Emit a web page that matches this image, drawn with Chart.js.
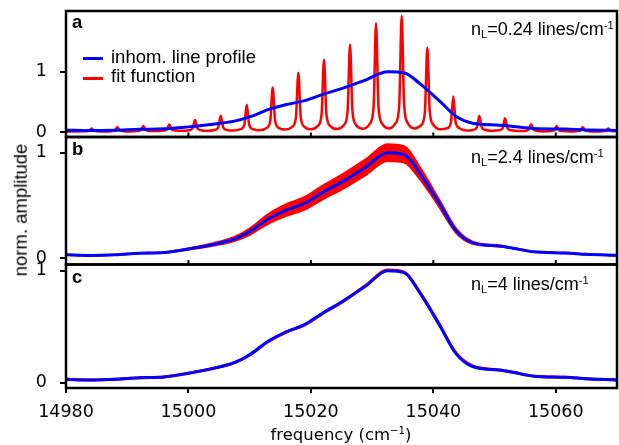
<!DOCTYPE html>
<html>
<head>
<meta charset="utf-8">
<script src="https://cdn.jsdelivr.net/npm/chart.js@4.4.0/dist/chart.umd.min.js"></script>
<style>
body { margin: 0; background: #fff; }
#wrap { position: relative; width: 619px; height: 445px; overflow: hidden; background: #fff; }
canvas { position: absolute; left: 0; }
.t { position: absolute; font-family: "Liberation Sans", Arial, sans-serif; color: #000; white-space: nowrap; line-height: 1; }
.t sub, .t sup { font-size: 62%; line-height: 0; }
.t sub { vertical-align: -0.3em; }
.t sup { vertical-align: 0.55em; }
.key { position: absolute; height: 3px; width: 20px; }
</style>
</head>
<body>
<div id="wrap">
  <canvas id="panelA" width="619" height="200" style="top:-30px"></canvas>
  <canvas id="panelB" width="619" height="200" style="top:100px"></canvas>
  <canvas id="panelC" width="619" height="250" style="top:230px"></canvas>

  <div class="t" style="left:72px;top:13px;font-size:18.5px;font-weight:bold">a</div>
  <div class="t" style="left:72px;top:140px;font-size:18.5px;font-weight:bold">b</div>
  <div class="t" style="left:72px;top:268px;font-size:18.5px;font-weight:bold">c</div>

  <div class="t" style="left:471px;top:20px;font-size:18px">n<sub>L</sub>=0.24 lines/cm<sup>-1</sup></div>
  <div class="t" style="left:471px;top:148px;font-size:18px">n<sub>L</sub>=2.4 lines/cm<sup>-1</sup></div>
  <div class="t" style="left:471px;top:275px;font-size:18px">n<sub>L</sub>=4 lines/cm<sup>-1</sup></div>

  <div class="key" style="left:83px;top:57px;background:#0000ff"></div>
  <div class="key" style="left:83px;top:77px;background:#ff0000"></div>
  <div class="t" style="left:111px;top:48px;font-size:18.5px">inhom. line profile</div>
  <div class="t" style="left:111px;top:67px;font-size:18.5px">fit function</div>

  <div class="t" style="left:21px;top:210px;font-size:18.5px;transform:translate(-50%,-50%) rotate(-90deg)">norm. amplitude</div>
  <div class="t" style="left:341px;top:427px;font-size:16.5px;font-family:'DejaVu Sans',sans-serif;transform:translateX(-50%)">frequency (cm<sup>&minus;1</sup>)</div>
</div>

<script>
// axis ticks
var xTickValues = [14980, 15000, 15020, 15040, 15060];
var yTickValues = [0, 1];

// inhomogeneous line profile (same curve in all three panels)
var profileFreq = [14980, 14984, 14988, 14992, 14996, 15000, 15004, 15007.5, 15010, 15013, 15016, 15019, 15022, 15025, 15029, 15032.5, 15035.3, 15037.7, 15041, 15043.7, 15046.4, 15050.8, 15053, 15056.5, 15061.6, 15065, 15070];
var profile = [0.030, 0.024, 0.030, 0.045, 0.052, 0.085, 0.128, 0.18, 0.25, 0.37, 0.455, 0.52, 0.625, 0.72, 0.865, 1.0, 0.98, 0.81, 0.515, 0.26, 0.145, 0.113, 0.093, 0.058, 0.048, 0.035, 0.025];

// panel a: fit function, 0.24 lines/cm-1
var peakFreqA = [14984.2, 14988.38, 14992.63, 14996.87, 15001.07, 15005.27, 15009.52, 15013.76, 15017.95, 15022.14, 15026.39, 15030.64, 15034.83, 15039.02, 15043.26, 15047.51, 15051.71, 15055.96, 15060.15, 15064.4, 15068.58];
var peakHeightA = [0.06, 0.08, 0.10, 0.13, 0.20, 0.27, 0.45, 0.74, 0.98, 1.20, 1.45, 1.81, 1.93, 1.40, 0.59, 0.27, 0.23, 0.13, 0.10, 0.08, 0.06];
var peakNeckA = [0.022, 0.026, 0.032, 0.044, 0.06, 0.076, 0.118, 0.183, 0.238, 0.288, 0.342, 0.42, 0.446, 0.332, 0.153, 0.076, 0.062, 0.038, 0.03, 0.026, 0.022];
var peakFootA = [0.013, 0.014, 0.017, 0.024, 0.029, 0.034, 0.048, 0.068, 0.086, 0.102, 0.117, 0.139, 0.147, 0.115, 0.062, 0.034, 0.028, 0.018, 0.015, 0.014, 0.013];
var valleyFreqA = [14980, 14986.3, 14990.5, 14994.75, 14998.97, 15003.17, 15007.4, 15011.64, 15015.86, 15020.05, 15024.27, 15028.52, 15032.74, 15036.93, 15041.14, 15045.39, 15049.61, 15053.84, 15058.06, 15062.28, 15066.49, 15070];
var valleyA = [0.01, 0.01, 0.01, 0.015, 0.02, 0.02, 0.025, 0.03, 0.04, 0.045, 0.05, 0.055, 0.06, 0.06, 0.045, 0.025, 0.02, 0.015, 0.01, 0.01, 0.01, 0.01];

// panel b: fit function, 2.4 lines/cm-1 (upper and lower edge of the dense ripple)
var fitUpperB = [0.031, 0.025, 0.031, 0.047, 0.055, 0.09, 0.14, 0.20, 0.28, 0.415, 0.51, 0.58, 0.69, 0.79, 0.94, 1.08, 1.06, 0.87, 0.55, 0.28, 0.155, 0.118, 0.096, 0.06, 0.05, 0.037, 0.026];
var fitLowerB = [0.029, 0.023, 0.029, 0.043, 0.049, 0.08, 0.116, 0.16, 0.22, 0.325, 0.40, 0.46, 0.56, 0.65, 0.79, 0.92, 0.905, 0.755, 0.48, 0.24, 0.135, 0.108, 0.09, 0.056, 0.046, 0.033, 0.024];

// panel c: fit function, 4 lines/cm-1
var fitC = [0.031, 0.025, 0.030, 0.045, 0.052, 0.084, 0.127, 0.179, 0.248, 0.366, 0.452, 0.516, 0.62, 0.715, 0.87, 1.005, 0.985, 0.815, 0.52, 0.265, 0.15, 0.113, 0.093, 0.058, 0.048, 0.035, 0.025];

function pts(xs, ys) {
  return xs.map(function (x, i) { return { x: x, y: ys[i] }; });
}

var fitA = [{ x: valleyFreqA[0], y: valleyA[0] }];
for (var i = 0; i < peakFreqA.length; i++) {
  var c = peakFreqA[i];
  fitA.push({ x: c - 1.0, y: peakFootA[i] });
  fitA.push({ x: c - 0.4, y: peakNeckA[i] });
  fitA.push({ x: c, y: peakHeightA[i] });
  fitA.push({ x: c + 0.4, y: peakNeckA[i] });
  fitA.push({ x: c + 1.0, y: peakFootA[i] });
  fitA.push({ x: valleyFreqA[i + 1], y: valleyA[i + 1] });
}

var frame = {
  id: 'frame',
  afterDatasetsDraw: function (chart, args, opts) {
    var a = chart.chartArea, ctx = chart.ctx;
    ctx.save();
    ctx.strokeStyle = '#000';
    if (opts.innerTicks) {
      ctx.lineWidth = 2;
      xTickValues.slice(1).forEach(function (v) {
        var px = chart.scales.x.getPixelForValue(v);
        ctx.beginPath();
        ctx.moveTo(px, a.bottom);
        ctx.lineTo(px, a.bottom - 4.5);
        ctx.stroke();
      });
    }
    ctx.lineWidth = 2.5;
    ctx.strokeRect(a.left, a.top, a.right - a.left, a.bottom - a.top);
    ctx.restore();
  }
};

function makePanel(id, datasets, yMin, yMax, padTop, padBottom, showX) {
  return new Chart(document.getElementById(id), {
    type: 'line',
    data: { datasets: datasets },
    options: {
      responsive: false,
      animation: false,
      layout: { padding: { top: padTop, bottom: padBottom, left: 0, right: 2 } },
      elements: { point: { radius: 0 }, line: { borderJoinStyle: 'round', cubicInterpolationMode: 'monotone' } },
      plugins: {
        legend: { display: false },
        tooltip: { enabled: false },
        frame: { innerTicks: !showX }
      },
      scales: {
        x: {
          type: 'linear',
          min: 14980,
          max: 15070,
          display: showX,
          afterBuildTicks: function (s) { s.ticks = xTickValues.map(function (v) { return { value: v }; }); },
          afterFit: function (s) { if (showX) s.height = 60; },
          border: { display: false },
          grid: { drawOnChartArea: false, drawTicks: true, tickLength: 5, color: '#000', lineWidth: 2 },
          ticks: {
            color: '#000',
            padding: 9,
            maxRotation: 0,
            font: { family: 'DejaVu Sans', size: 17.5 },
            callback: function (v) { return String(v); }
          }
        },
        y: {
          min: yMin,
          max: yMax,
          afterBuildTicks: function (s) { s.ticks = yTickValues.map(function (v) { return { value: v }; }); },
          afterFit: function (s) { s.width = 66; },
          border: { display: false },
          grid: { drawOnChartArea: false, drawTicks: true, tickLength: 6, color: '#000', lineWidth: 2 },
          ticks: {
            color: '#000',
            padding: 13,
            font: { family: 'DejaVu Sans', size: 17.5 },
            callback: function (v) { return String(v); }
          }
        }
      }
    },
    plugins: [frame]
  });
}

makePanel('panelA', [
  { label: 'inhom. line profile', data: pts(profileFreq, profile), borderColor: '#0000ff', borderWidth: 3, fill: false },
  { label: 'fit function', data: fitA, borderColor: '#ff0000', borderWidth: 2.5, fill: false }
], -0.083, 2.007, 41, 33, false);

makePanel('panelB', [
  { label: 'inhom. line profile', data: pts(profileFreq, profile), borderColor: '#0000ff', borderWidth: 3, fill: false },
  { label: 'fit upper', data: pts(profileFreq, fitUpperB), borderColor: '#ff0000', borderWidth: 2, fill: false },
  { label: 'fit lower', data: pts(profileFreq, fitLowerB), borderColor: '#ff0000', borderWidth: 2, backgroundColor: '#ff0000', fill: '-1' }
], -0.062, 1.149, 37, 35.5, false);

makePanel('panelC', [
  { label: 'inhom. line profile', data: pts(profileFreq, profile), borderColor: '#0000ff', borderWidth: 3, fill: false },
  { label: 'fit function', data: pts(profileFreq, fitC), borderColor: '#ff0000', borderWidth: 3, fill: false }
], -0.047, 1.055, 34.5, 32, true);
</script>
</body>
</html>
